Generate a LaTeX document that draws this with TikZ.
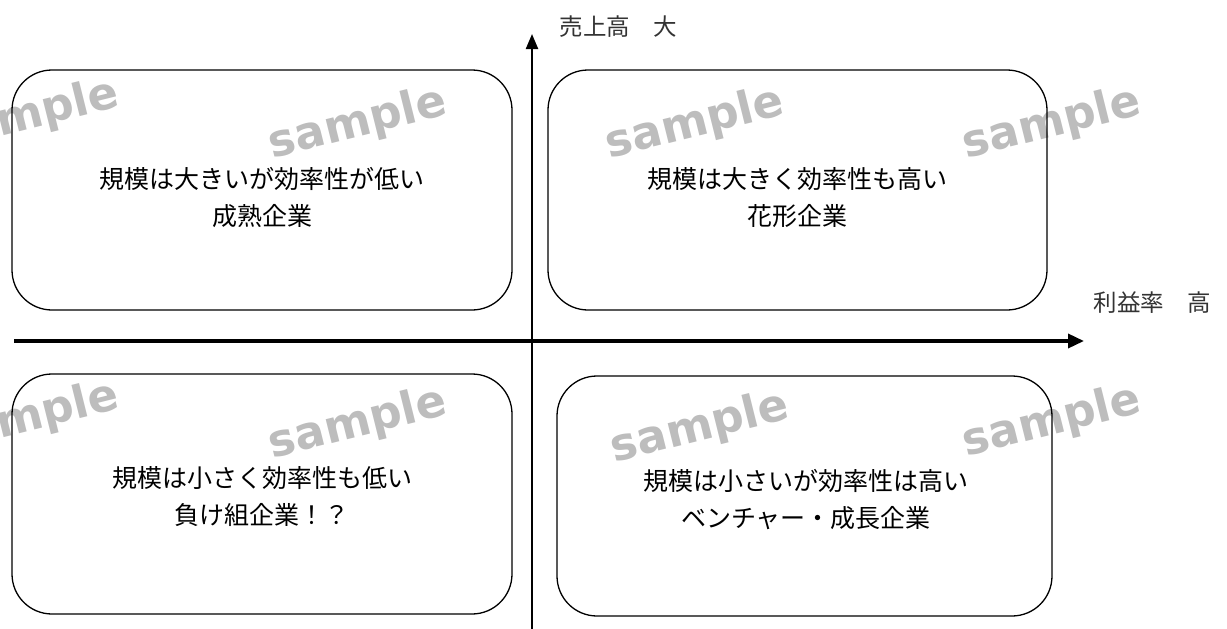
\documentclass[tikz,border=0pt]{standalone}
\usepackage{fontspec}
\newfontfamily\jp{Noto Sans CJK JP}
\newfontfamily\wm{DejaVu Sans}
\usetikzlibrary{arrows.meta}
\definecolor{wmgray}{HTML}{BDBDBD}
\tikzset{
  quad/.style={draw=black, line width=1.3pt, rounded corners=40pt, inner sep=0pt},
  boxtext/.style={align=center, font=\jp\fontsize{25}{37}\selectfont, text=black},
  axlabel/.style={anchor=west, font=\jp\fontsize{23.5}{26}\selectfont, text=black!80},
  wmark/.style={font=\wm\bfseries\fontsize{45}{47}\selectfont, text=wmgray, rotate=14},
  haxis/.style={line width=3.5pt, -{Triangle[length=16pt,width=14pt]}},
  vaxis/.style={line width=2.2pt, -{Triangle[length=15pt,width=12pt]}}
}
\begin{document}
\begin{tikzpicture}[x=1pt,y=-1pt]
\useasboundingbox (0,0) rectangle (1227,629);
% watermarks
\node[wmark] (w1) at (30,116) {sample};
\node[wmark] (w2) at (358,124) {sample};
\node[wmark] (w3) at (695,124) {sample};
\node[wmark] (w4) at (1052,124) {sample};
\node[wmark] (w5) at (30,418) {sample};
\node[wmark] (w6) at (358,424) {sample};
\node[wmark] (w7) at (700,428) {sample};
\node[wmark] (w8) at (1052,422) {sample};
% boxes
\node[quad, minimum width=500pt, minimum height=240pt] (tl) at (262,190) {};
\node[quad, minimum width=499pt, minimum height=240pt] (tr) at (797.5,190) {};
\node[quad, minimum width=500pt, minimum height=240pt] (bl) at (262,494) {};
\node[quad, minimum width=495pt, minimum height=240pt] (br) at (804.5,496) {};
% texts
\node[boxtext] (ttl) at (262,198) {規模は大きいが効率性が低い\\成熟企業};
\node[boxtext] (ttr) at (797,198) {規模は大きく効率性も高い\\花形企業};
\node[boxtext] (tbl) at (262,497) {規模は小さく効率性も低い\\負け組企業！？};
\node[boxtext] (tbr) at (806,500) {規模は小さいが効率性は高い\\ベンチャー・成長企業};
% axes
\coordinate (hs) at (14,341);
\coordinate (he) at (1084,341);
\coordinate (vs) at (532,629);
\coordinate (ve) at (532,34);
\draw[haxis] (hs) -- (he);
\draw[vaxis] (vs) -- (ve);
\node[axlabel] (ly) at (556,27) {売上高　大};
\node[axlabel] (lx) at (1090,303) {利益率　高};
\end{tikzpicture}
\end{document}
